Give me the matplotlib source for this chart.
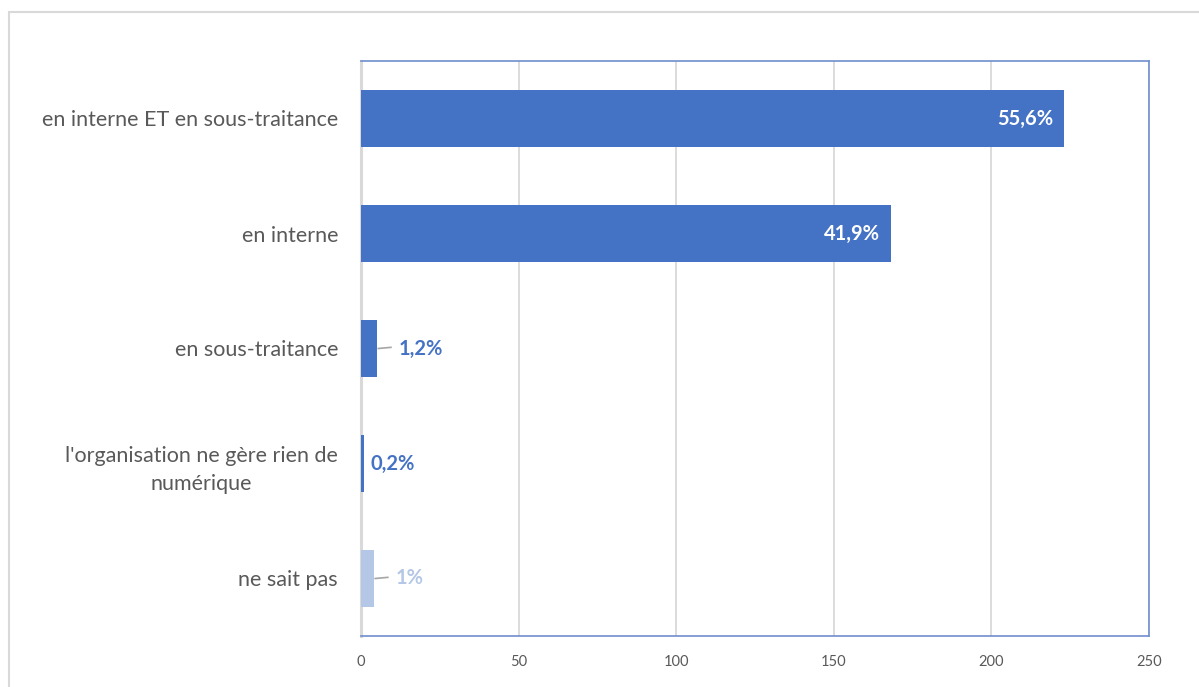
import matplotlib
matplotlib.use("Agg")
import matplotlib.pyplot as plt
from matplotlib.patches import Rectangle

categories = [
    "en interne ET en sous-traitance",
    "en interne",
    "en sous-traitance",
    "l'organisation ne gère rien de\nnumérique",
    "ne sait pas",
]
counts = [223, 168, 5, 1, 4]
pct_labels = ["55,6%", "41,9%", "1,2%", "0,2%", "1%"]
bar_colors = ["#4472C4", "#4472C4", "#4472C4", "#4472C4", "#B4C7E7"]
label_inside = [True, True, False, False, False]
leader_line = [False, False, True, False, True]
x_ticks = [0, 50, 100, 150, 200, 250]

plt.rcParams["font.family"] = ["Lato", "DejaVu Sans"]

fig = plt.figure(figsize=(11.99, 6.87), dpi=100)
fig.patch.set_facecolor("white")

# outer chart frame
fig.add_artist(Rectangle((9 / 1199, -0.01), 1.1, 1 - 12 / 687 + 0.01,
                         transform=fig.transFigure, fill=False,
                         edgecolor="#D9D9D9", linewidth=1.5))

ax = fig.add_axes([361 / 1199, 51 / 687, 788 / 1199, 575 / 687])
y = list(range(len(categories)))
ax.barh(y, counts, height=0.5, color=bar_colors, zorder=3)

ax.set_xlim(0, 250)
ax.set_ylim(len(categories) - 0.5, -0.5)
ax.set_xticks(x_ticks)
ax.set_xticklabels([str(t) for t in x_ticks])
ax.set_yticks(y)
ax.set_yticklabels(categories, fontsize=15.5, color="#595959", linespacing=1.55)
for lbl in ax.get_yticklabels():
    lbl.set_horizontalalignment("right")
    lbl.set_multialignment("center")
ax.tick_params(axis="y", length=0, pad=16.5)
ax.tick_params(axis="x", length=0, pad=13.5, labelsize=10.5, labelcolor="#595959")

ax.grid(axis="x", color="#D9D9D9", linewidth=1.3, zorder=0)
for side in ("top", "right", "bottom"):
    ax.spines[side].set_color("#6F8FD0")
    ax.spines[side].set_linewidth(1.2)
ax.spines["left"].set_color("#D9D9D9")
ax.spines["left"].set_linewidth(2.2)
ax.spines["left"].set_zorder(2)

for i, (v, txt, col) in enumerate(zip(counts, pct_labels, bar_colors)):
    if label_inside[i]:
        ax.text(v - 3.5, i, txt, ha="right", va="center", fontsize=14.5,
                fontweight="bold", color="white", zorder=5)
    elif leader_line[i]:
        ax.plot([v + 0.5, v + 4.5], [i, i - 0.01], color="#A6A6A6",
                linewidth=1.2, zorder=4)
        ax.text(v + 7, i, txt, ha="left", va="center", fontsize=14.5,
                fontweight="bold", color=col, zorder=5)
    else:
        ax.text(v + 2, i, txt, ha="left", va="center", fontsize=14.5,
                fontweight="bold", color=col, zorder=5)

fig.savefig("out.png", dpi=100, facecolor="white")
